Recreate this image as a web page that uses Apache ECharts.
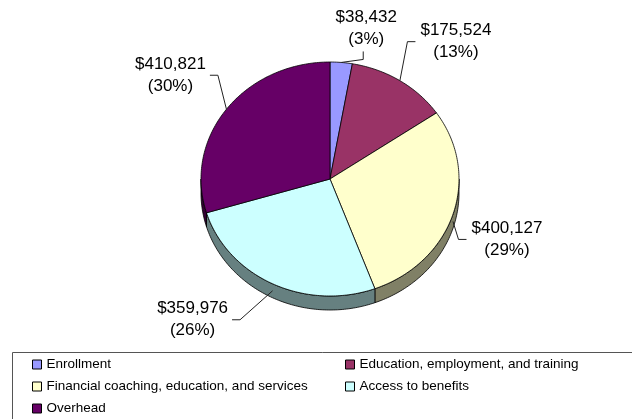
<!DOCTYPE html>
<html>
<head>
<meta charset="utf-8">
<script src="https://cdn.jsdelivr.net/npm/echarts@6/dist/echarts.min.js"></script>
<style>
  html, body { margin: 0; padding: 0; background: #fff; }
  #chart { width: 632px; height: 419px; }
</style>
</head>
<body>
<div id="chart"></div>
<script>
// Budget split by program area
const categories = [
  'Enrollment',
  'Education, employment, and training',
  'Financial coaching, education, and services',
  'Access to benefits',
  'Overhead'
];
const amounts = [38432, 175524, 400127, 359976, 410821];

// Colours of the slice tops and of their darker rims
const sliceColors = ['#9999FF', '#993366', '#FFFFCC', '#CCFFFF', '#660066'];
const sideColors = ['#4C4C80', '#4C1933', '#808066', '#668080', '#330033'];

// Where each label block sits relative to its slice's rim point
const labelShift = [[25, -34], [56, -39], [54, 18], [-80, 29], [-56, -34]];

const PIE = { cx: 330, cy: 179, rx: 129, ry: 117, depth: 14 };
const FONT_FAMILY = '"Liberation Sans", Arial, sans-serif';
const LABEL_SIZE = 17;
const LABEL_LINE = 22;

const total = amounts.reduce((a, b) => a + b, 0);
const measureCtx = document.createElement('canvas').getContext('2d');
measureCtx.font = LABEL_SIZE + 'px ' + FONT_FAMILY;

// point on the tilted disc, angle clockwise from 12 o'clock
function rim(theta, drop) {
  return [PIE.cx + PIE.rx * Math.sin(theta), PIE.cy - PIE.ry * Math.cos(theta) + (drop || 0)];
}
function arcPoints(a0, a1, drop) {
  const pts = [];
  const n = Math.max(2, Math.ceil((a1 - a0) / (Math.PI / 180)));
  for (let k = 0; k <= n; k++) pts.push(rim(a0 + (a1 - a0) * k / n, drop));
  return pts;
}
function money(v) { return '$' + v.toLocaleString('en-US'); }

function renderSlice(params, api) {
  const i = params.dataIndex;
  const value = api.value(0);
  let before = 0;
  for (let k = 0; k < i; k++) before += amounts[k];
  const a0 = before / total * Math.PI * 2;
  const a1 = (before + value) / total * Math.PI * 2;
  const children = [];

  // rim of the disc, only on the front half
  const s0 = Math.max(a0, Math.PI / 2), s1 = Math.min(a1, Math.PI * 1.5);
  if (s1 > s0) {
    const top = arcPoints(s0, s1, 0);
    const bottom = arcPoints(s0, s1, PIE.depth).reverse();
    children.push({
      type: 'polygon',
      shape: { points: top.concat(bottom) },
      style: { fill: sideColors[i], stroke: '#000', lineWidth: 0.8 }
    });
  }

  // top face of the slice
  children.push({
    type: 'polygon',
    shape: { points: [[PIE.cx, PIE.cy]].concat(arcPoints(a0, a1, 0)) },
    style: { fill: sliceColors[i], stroke: '#000', lineWidth: 0.8 }
  });

  // value label with its leader line
  const mid = (a0 + a1) / 2;
  const front = Math.cos(mid) < 0;
  const anchor = rim(mid, front ? PIE.depth / 2 : 0);
  const bx = anchor[0] + labelShift[i][0];
  const by = anchor[1] + labelShift[i][1];
  const line1 = money(value);
  const line2 = '(' + Math.round(value / total * 100) + '%)';
  const halfW = Math.max(measureCtx.measureText(line1).width, measureCtx.measureText(line2).width) / 2;
  let attach, elbow;
  if (anchor[0] > bx - halfW && anchor[0] < bx + halfW) {
    attach = [bx - 3, by + LABEL_LINE + 1];
    elbow = [attach[0], attach[1] + 8];
  } else if (anchor[0] < bx) {
    attach = [bx - halfW - 5, by];
    elbow = [attach[0] - 8, by];
  } else {
    attach = [bx + halfW + 4, by];
    elbow = [attach[0] + 8, by];
  }
  children.push({
    type: 'polyline',
    shape: { points: [anchor, elbow, attach] },
    style: { stroke: '#222', lineWidth: 1, fill: null }
  });
  children.push({
    type: 'text',
    style: {
      text: line1 + '\n' + line2,
      x: bx, y: by,
      align: 'center', verticalAlign: 'middle',
      font: LABEL_SIZE + 'px ' + FONT_FAMILY,
      lineHeight: LABEL_LINE,
      fill: '#000'
    }
  });
  return { type: 'group', children: children };
}

const legendText = { fontFamily: FONT_FAMILY, fontSize: 13.5, color: '#000', lineHeight: 15 };
const legendBase = {
  orient: 'vertical', top: 357, padding: 0,
  itemWidth: 9, itemHeight: 9, itemGap: 7, icon: 'rect',
  selectedMode: false,
  textStyle: legendText,
  itemStyle: { borderColor: '#000', borderWidth: 1 }
};

const chart = echarts.init(document.getElementById('chart'), null, { renderer: 'canvas' });
chart.setOption({
  animation: false,
  backgroundColor: '#fff',
  graphic: [{
    type: 'rect',
    shape: { x: 12.5, y: 352.5, width: 640, height: 100 },
    style: { fill: 'none', stroke: '#555', lineWidth: 1 },
    z: -1
  }],
  legend: [
    Object.assign({}, legendBase, { left: 32, data: [categories[0], categories[2], categories[4]] }),
    Object.assign({}, legendBase, { left: 345, data: [categories[1], categories[3]] })
  ],
  series: [{
    type: 'custom',
    name: 'Budget',
    coordinateSystem: 'none',
    silent: true,
    renderItem: renderSlice,
    data: amounts.map((v, i) => ({ value: v, name: categories[i] }))
  }].concat(categories.map((c, i) => ({
    type: 'custom',
    name: c,
    coordinateSystem: 'none',
    itemStyle: { color: sliceColors[i] },
    renderItem: () => null,
    data: []
  })))
});
</script>
</body>
</html>
